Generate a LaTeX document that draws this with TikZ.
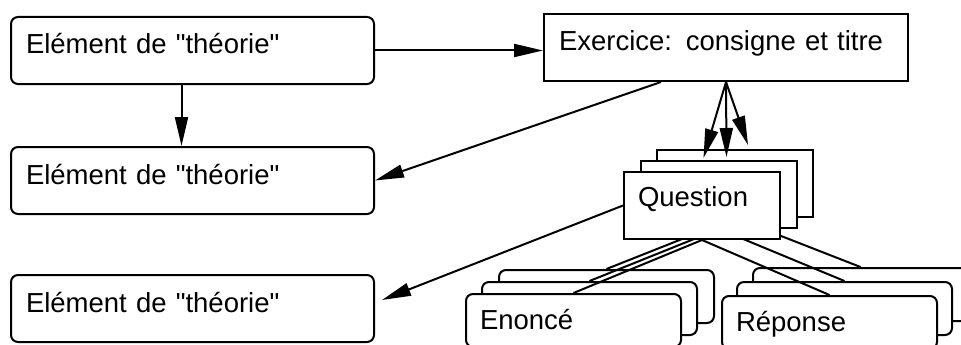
\documentclass[tikz,border=0pt]{standalone}
\usepackage{fontspec}
\setmainfont{Liberation Sans}
\usetikzlibrary{positioning,arrows.meta}
\pgfdeclarelayer{front}
\pgfdeclarelayer{top}
\pgfsetlayers{main,front,top}
\newcommand{\theorie}{Elément de \textquotedbl théorie\textquotedbl}

\begin{document}
\begin{tikzpicture}[
  x=1pt, y=-1pt,
  node distance=61pt,
  every node/.style={font=\fontsize{27.5pt}{33pt}\selectfont},
  tbox/.style={draw, line width=2pt, rounded corners=7pt, fill=white, anchor=north west, align=left, text width=333pt, inner xsep=15pt, inner ysep=0pt, text height=37pt, text depth=30pt},
  exbox/.style={tbox, sharp corners, text width=334pt},
  qbox/.style={draw, line width=2pt, fill=white, anchor=north west, align=left, text width=128pt, inner xsep=14pt, inner ysep=0pt, text height=34pt, text depth=33pt},
  ebox/.style={qbox, rounded corners=7pt, text width=187pt, text height=35pt, text depth=18pt},
  link/.style={line width=2pt},
  arrow/.style={link, -{Triangle[length=29pt,width=13pt]}}
]
\useasboundingbox (0,0) rectangle (961,345);
\clip (0,0) rectangle (961,345);

% theorie + exercice
\node[tbox] (th1) at (10,16) {\theorie};
\node[tbox, below=61pt of th1] (th2) {\theorie};
\node[tbox, below=59pt of th2] (th3) {\theorie};
\node[exbox, right=168pt of th1, yshift=3pt] (exo) {Exercice: consigne et titre};

% enonce / reponse stacks
\node[ebox] (en3) at (498,269) {};
\node[ebox] (en2) at (481,281) {};
\node[ebox] (en1) at (465,293) {Enoncé};
\node[ebox] (rep3) at (752,267) {};
\node[ebox] (rep2) at (736,281) {};
\node[ebox] (rep1) at (721,295) {Réponse};

% question stack
\begin{pgfonlayer}{front}
\node[qbox] (q3) at (656,149) {};
\node[qbox] (q2) at (640,160) {};
\node[qbox] (q1) at (623,171) {Question};
\end{pgfonlayer}
\foreach \i in {1,2,3} {
  \draw[link] (q\i.south) -- (en\i.north);
  \draw[link] (q\i.south) -- (rep\i.north);
}

\coordinate (drop) at ([xshift=-11pt]th1.south);
\draw[arrow] (drop) -- (drop |- th2.north);
\draw[arrow] (th1.east) -- (th1.east -| exo.west);
\draw[arrow] ([xshift=-65pt]exo.south) -- (th2.east);
\draw[arrow] (q1.west) -- ([xshift=7pt,yshift=8.5pt]th3.east);
\begin{pgfonlayer}{top}
\draw[arrow] (exo.south) -- ([xshift=-15.5pt,yshift=2pt]q2.north);
\draw[arrow] (exo.south) -- ([xshift=7.5pt,yshift=3pt]q2.north);
\draw[arrow] (exo.south) -- ([xshift=13pt,yshift=4pt]q3.north);
\end{pgfonlayer}
\end{tikzpicture}
\end{document}
